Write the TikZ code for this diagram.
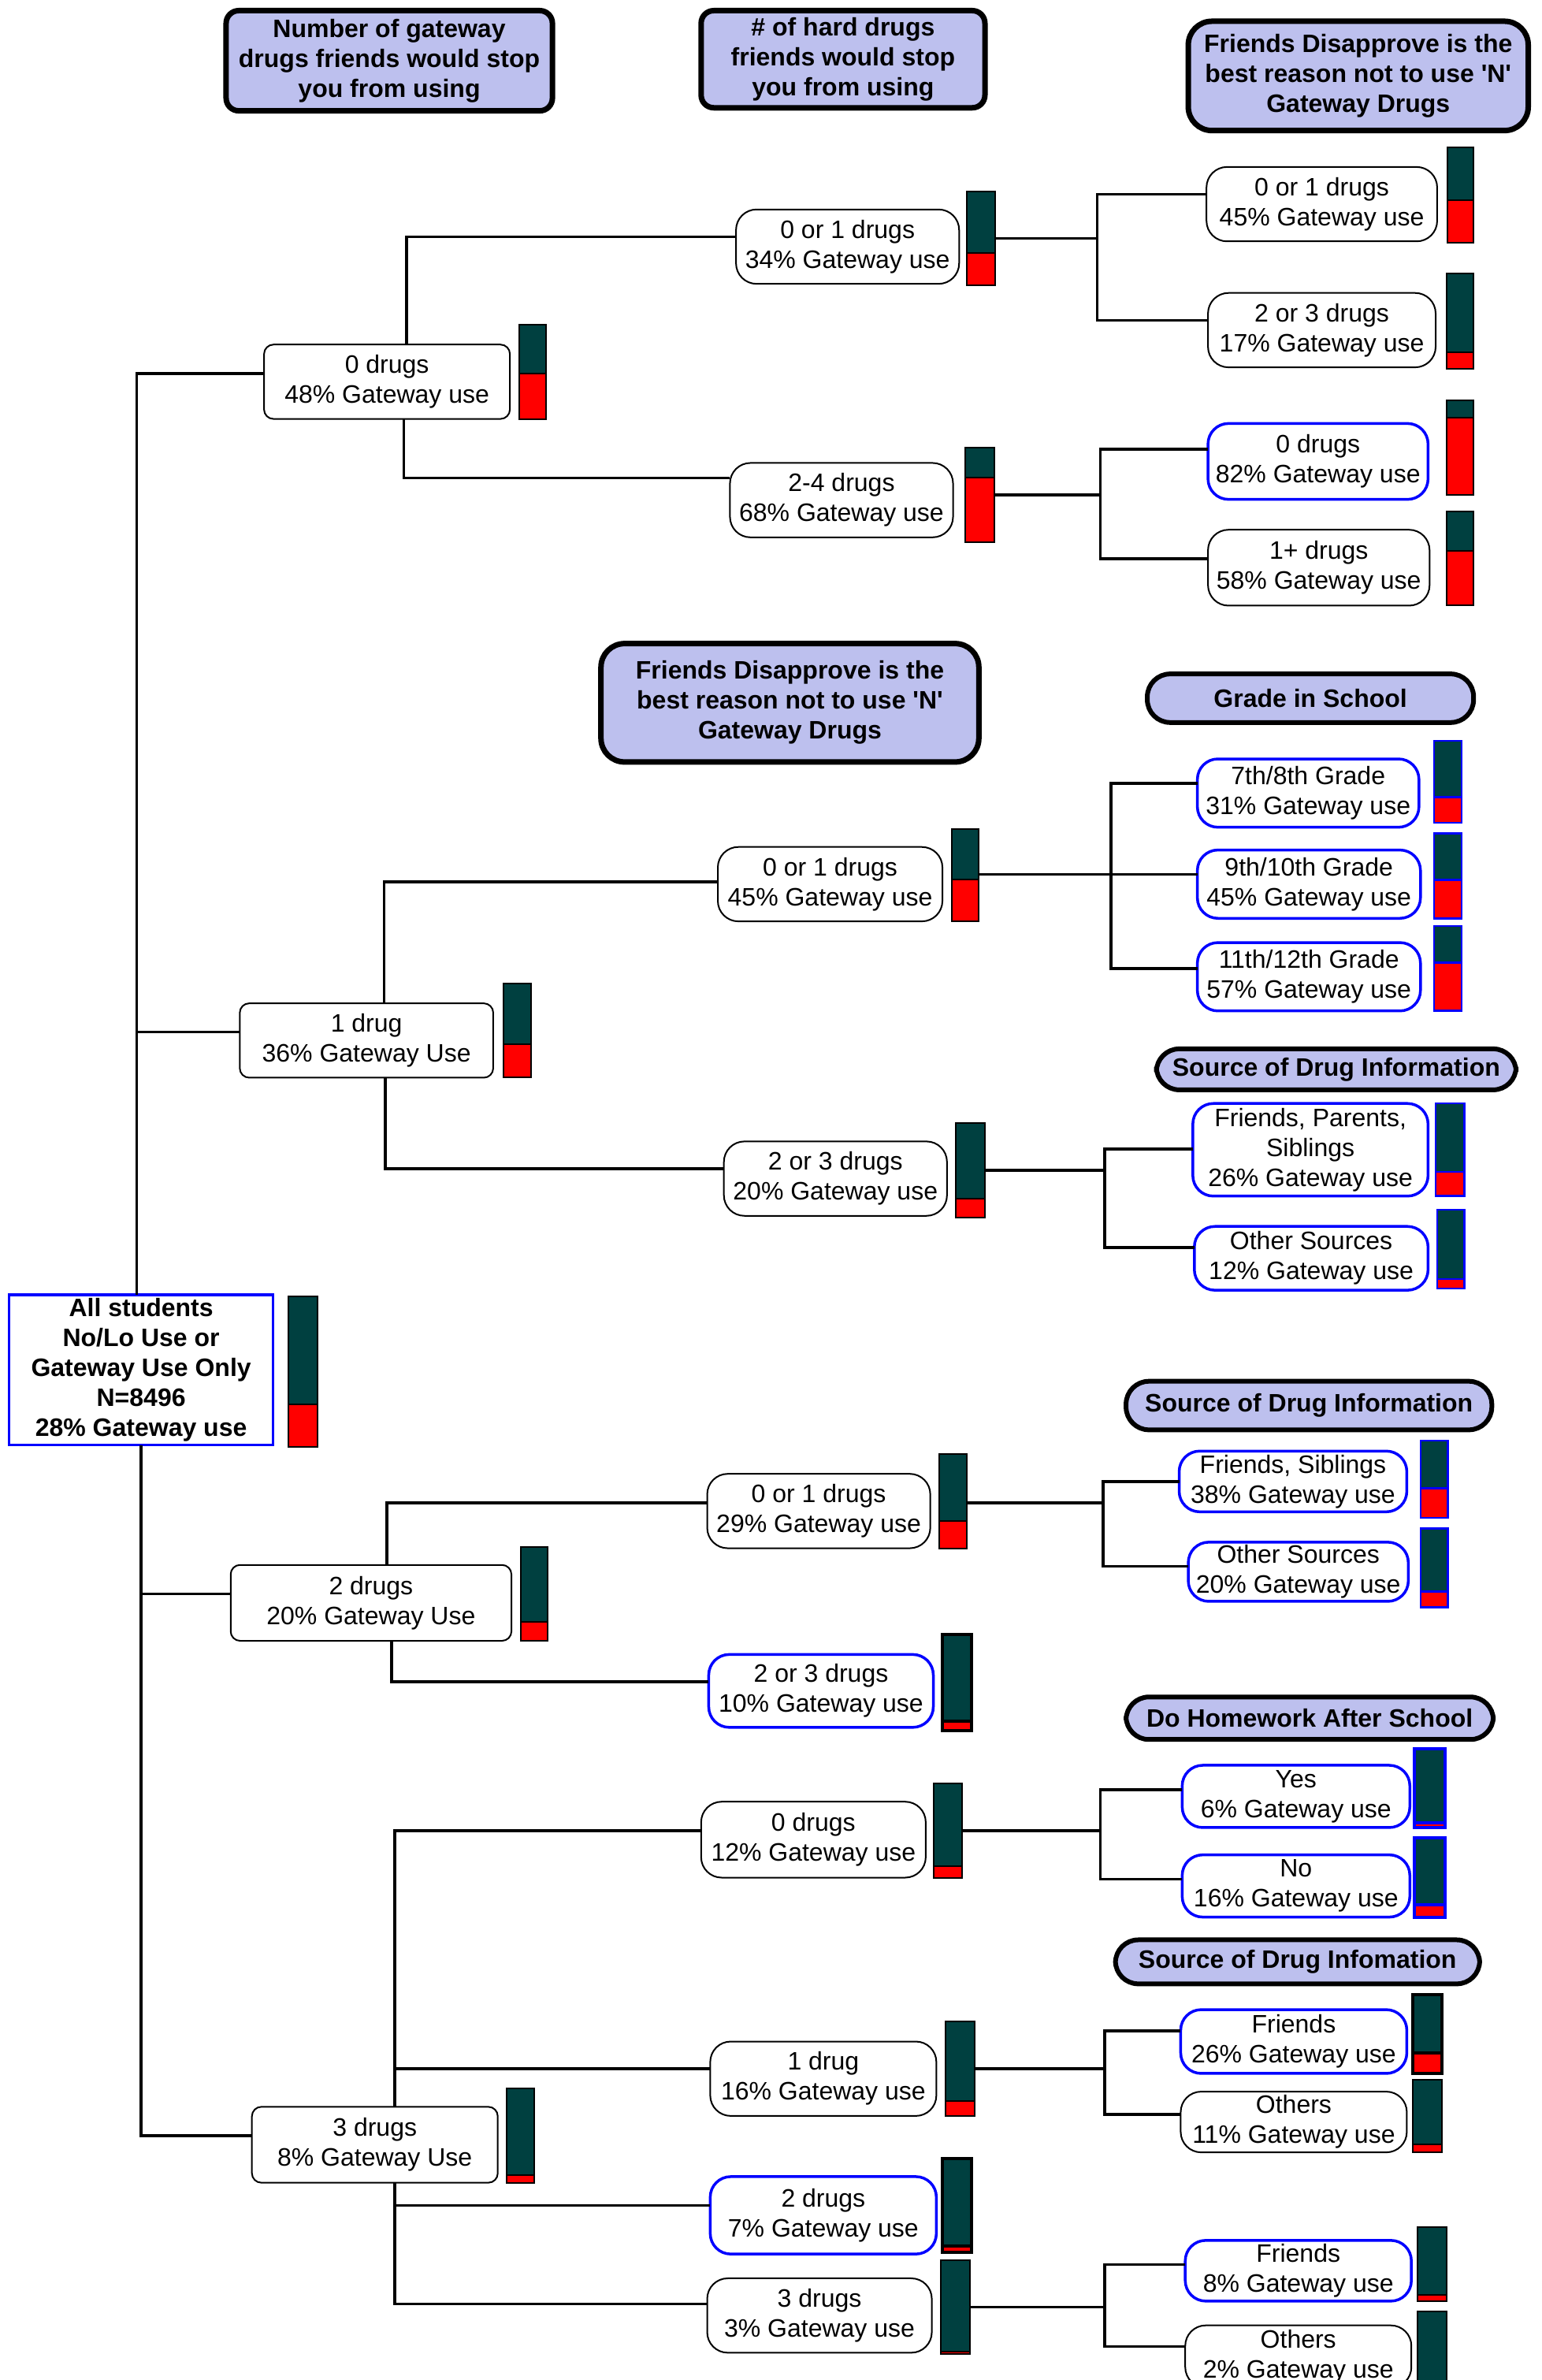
\documentclass[tikz,border=0pt]{standalone}
\usepackage{fontspec}
\setmainfont{Liberation Sans}
\newfontfamily\qf{Liberation Sans}
\definecolor{lav}{RGB}{189,192,238}
\definecolor{bteal}{RGB}{0,64,64}
\definecolor{bred}{RGB}{255,0,0}
\newcommand\nodefont{\fontsize{32}{38}\selectfont}
\newcommand\sq{{\qf'}}
\newcommand\mynode[7]{\node[#6, minimum width={(#4-#2)*1.926pt}, minimum height={(#5-#3)*1.926pt}] (#1) at ({(#2+#4)/2},{(#3+#5)/2}) {#7};}
\newcommand\mybar[7]{%
  \node[barbox, minimum width={(#4-#2)*1.926pt}, minimum height={(#5-#3)*1.926pt}] (#1) at ({(#2+#4)/2},{(#3+#5)/2}) {};
  \fill[bred] (#2,{#5-(#5-#3)*#6/100}) rectangle (#4,#5);
  \draw[#7] (#2,{#5-(#5-#3)*#6/100}) -- (#4,{#5-(#5-#3)*#6/100});
  \draw[#7] (#2,#3) rectangle (#4,#5);
}
\tikzset{
  base/.style={fill=white, align=center, inner sep=0pt, outer sep=0pt, font=\nodefont},
  nd/.style={base, draw=black, line width=2pt, rounded corners=26pt},
  ndb/.style={base, draw=blue, line width=3.5pt, rounded corners=26pt},
  lvone/.style={base, draw=black, line width=2pt, rounded corners=12pt},
  rootbox/.style={base, draw=blue, line width=3.5pt, font=\nodefont\bfseries},
  hdr/.style={base, fill=lav, draw=black, line width=7pt, rounded corners=16pt, font=\nodefont\bfseries},
  hdrr/.style={hdr, rounded corners=30pt},
  pill/.style={hdr, line width=6pt, rounded corners=29pt},
  barbox/.style={fill=bteal, inner sep=0pt, outer sep=0pt, draw=none},
  bk/.style={draw=black, line width=2pt},
  bkt/.style={draw=black, line width=4pt},
  bb/.style={draw=blue, line width=2.5pt},
  bbt/.style={draw=blue, line width=4pt},
  conn/.style={draw=black, line width=3.5pt}
}
\begin{document}
\begin{tikzpicture}[x=1.926pt, y=-1.926pt]
\useasboundingbox (0,0) rectangle (1016,1568);
\clip (0,0) rectangle (1016,1568);
\fill[white] (0,0) rectangle (1016,1568);

% headers
\mynode{H1}{149}{7}{364}{73}{hdr}{Number of gateway\\drugs friends would stop\\you from using}
\mynode{H2}{462}{7}{649}{71}{hdr}{\# of hard drugs\\friends would stop\\you from using}
\mynode{H3}{783}{14}{1007}{86}{hdrr}{Friends Disapprove is the\\best reason not to use \sq N\sq\\Gateway Drugs}
\mynode{H4}{396}{424}{645}{502}{hdrr}{Friends Disapprove is the\\best reason not to use \sq N\sq\\Gateway Drugs}
\mynode{H5}{756}{444}{971}{476}{pill}{Grade in School}
\mynode{H6}{762}{691}{999}{718}{pill}{Source of Drug Information}
\mynode{H7}{742}{910}{983}{942}{pill}{Source of Drug Information}
\mynode{H8}{742}{1118}{984}{1146}{pill}{Do Homework After School}
\mynode{H9}{735}{1278}{975}{1307}{pill}{Source of Drug Infomation}

% root
\mynode{root}{6}{853}{180}{952}{rootbox}{All students\\No/Lo Use or\\Gateway Use Only\\N=8496\\28\% Gateway use}
\mybar{rootbar}{190}{854}{209}{953}{28}{bk}

% level 1
\mynode{A}{174}{227}{336}{276}{lvone}{0 drugs\\48\% Gateway use}
\mybar{Abar}{342}{214}{360}{276}{48}{bk}
\mynode{B}{158}{661}{325}{710}{lvone}{1 drug\\36\% Gateway Use}
\mybar{Bbar}{332}{648}{350}{710}{36}{bk}
\mynode{C}{152}{1031}{337}{1081}{lvone}{2 drugs\\20\% Gateway Use}
\mybar{Cbar}{343}{1019}{361}{1081}{20}{bk}
\mynode{D}{166}{1388}{328}{1438}{lvone}{3 drugs\\8\% Gateway Use}
\mybar{Dbar}{334}{1376}{352}{1438}{8}{bk}

% level 2
\mynode{A1}{485}{138}{632}{187}{nd}{0 or 1 drugs\\34\% Gateway use}
\mybar{A1bar}{637}{126}{656}{188}{34}{bk}
\mynode{A2}{481}{305}{628}{354}{nd}{2-4 drugs\\68\% Gateway use}
\mybar{A2bar}{636}{295}{655}{357}{68}{bk}
\mynode{B1}{473}{558}{621}{607}{nd}{0 or 1 drugs\\45\% Gateway use}
\mybar{B1bar}{627}{546}{645}{607}{45}{bk}
\mynode{B2}{477}{752}{624}{801}{nd}{2 or 3 drugs\\20\% Gateway use}
\mybar{B2bar}{630}{740}{649}{802}{20}{bk}
\mynode{C1}{466}{971}{613}{1020}{nd}{0 or 1 drugs\\29\% Gateway use}
\mybar{C1bar}{619}{958}{637}{1020}{29}{bk}
\mynode{C2}{467}{1090}{615}{1138}{ndb}{2 or 3 drugs\\10\% Gateway use}
\mybar{C2bar}{621}{1077}{640}{1140}{10}{bkt}
\mynode{D1}{462}{1187}{610}{1237}{nd}{0 drugs\\12\% Gateway use}
\mybar{D1bar}{615}{1175}{634}{1237}{12}{bk}
\mynode{D2}{468}{1345}{617}{1394}{nd}{1 drug\\16\% Gateway use}
\mybar{D2bar}{623}{1332}{642}{1394}{16}{bk}
\mynode{D3}{468}{1434}{617}{1485}{ndb}{2 drugs\\7\% Gateway use}
\mybar{D3bar}{621}{1422}{640}{1484}{7}{bkt}
\mynode{D4}{466}{1501}{614}{1550}{nd}{3 drugs\\3\% Gateway use}
\mybar{D4bar}{620}{1489}{639}{1551}{3}{bk}

% level 3
\mynode{A1a}{795}{110}{947}{159}{nd}{0 or 1 drugs\\45\% Gateway use}
\mybar{A1abar}{954}{97}{971}{160}{45}{bk}
\mynode{A1b}{796}{193}{946}{242}{nd}{2 or 3 drugs\\17\% Gateway use}
\mybar{A1bbar}{953}{180}{971}{243}{17}{bk}
\mynode{A2a}{796}{279}{941}{329}{ndb}{0 drugs\\82\% Gateway use}
\mybar{A2abar}{953}{264}{971}{326}{82}{bk}
\mynode{A2b}{796}{349}{942}{399}{nd}{1+ drugs\\58\% Gateway use}
\mybar{A2bbar}{953}{337}{971}{399}{58}{bk}

\mynode{B1a}{789}{500}{935}{545}{ndb}{7th/8th Grade\\31\% Gateway use}
\mybar{B1abar}{945}{488}{963}{542}{31}{bb}
\mynode{B1b}{789}{560}{936}{605}{ndb}{9th/10th Grade\\45\% Gateway use}
\mybar{B1bbar}{945}{549}{963}{605}{45}{bb}
\mynode{B1c}{789}{621}{936}{666}{ndb}{11th/12th Grade\\57\% Gateway use}
\mybar{B1cbar}{945}{610}{963}{666}{57}{bb}
\mynode{B2a}{786}{727}{941}{788}{ndb}{Friends, Parents,\\Siblings\\26\% Gateway use}
\mybar{B2abar}{946}{727}{965}{788}{26}{bb}
\mynode{B2b}{787}{808}{941}{850}{ndb}{Other Sources\\12\% Gateway use}
\mybar{B2bbar}{947}{797}{965}{849}{12}{bb}

\mynode{C1a}{777}{956}{927}{996}{ndb}{Friends, Siblings\\38\% Gateway use}
\mybar{C1abar}{936}{949}{954}{1000}{38}{bb}
\mynode{C1b}{783}{1016}{928}{1055}{ndb}{Other Sources\\20\% Gateway use}
\mybar{C1bbar}{936}{1007}{954}{1059}{20}{bb}

\mynode{D1a}{779}{1163}{929}{1204}{ndb}{Yes\\6\% Gateway use}
\mybar{D1abar}{932}{1152}{952}{1204}{6}{bbt}
\mynode{D1b}{779}{1222}{929}{1263}{ndb}{No\\16\% Gateway use}
\mybar{D1bbar}{932}{1211}{952}{1263}{16}{bbt}
\mynode{D2a}{778}{1324}{927}{1366}{ndb}{Friends\\26\% Gateway use}
\mybar{D2abar}{931}{1314}{950}{1366}{26}{bkt}
\mynode{D2b}{778}{1378}{927}{1418}{nd}{Others\\11\% Gateway use}
\mybar{D2bbar}{931}{1370}{950}{1418}{11}{bk}
\mynode{D4a}{781}{1476}{930}{1516}{ndb}{Friends\\8\% Gateway use}
\mybar{D4abar}{934}{1467}{953}{1516}{8}{bk}
\mynode{D4b}{781}{1532}{930}{1573}{nd}{Others\\2\% Gateway use}
\mybar{D4bbar}{934}{1523}{953}{1576}{2}{bk}

% trunk
\coordinate (t1) at (90,246);
\coordinate (t2) at (90,680);
\coordinate (t3) at (93,1050);
\coordinate (t4) at (93,1407);
\draw[conn] (root.north -| t1) -- (t1) -- (t1 -| A.west);
\draw[conn] (t2) -- (t2 -| B.west);
\draw[conn] (root.south -| t4) -- (t4) -- (t4 -| D.west);
\draw[conn] (t3) -- (t3 -| C.west);

% A branches
\coordinate (a1) at (268,156);
\coordinate (a2) at (266,315);
\draw[conn] (A.north -| a1) -- (a1) -- (a1 -| A1.west);
\draw[conn] (A.south -| a2) -- (a2) -- (a2 -| A2.west);
\coordinate (ka1) at (723,157);
\coordinate (ka1t) at (723,128);
\coordinate (ka1b) at (723,211);
\draw[conn] (ka1 -| A1bar.east) -- (ka1);
\draw[conn] (ka1t -| A1a.west) -- (ka1t) -- (ka1b) -- (ka1b -| A1b.west);
\coordinate (ka2) at (725,326);
\coordinate (ka2t) at (725,296);
\coordinate (ka2b) at (725,368);
\draw[conn] (ka2 -| A2bar.east) -- (ka2);
\draw[conn] (ka2t -| A2a.west) -- (ka2t) -- (ka2b) -- (ka2b -| A2b.west);

% B branches
\coordinate (b1) at (253,581);
\coordinate (b2) at (254,770);
\draw[conn] (B.north -| b1) -- (b1) -- (b1 -| B1.west);
\draw[conn] (B.south -| b2) -- (b2) -- (b2 -| B2.west);
\coordinate (kb1) at (732,576);
\coordinate (kb1t) at (732,516);
\coordinate (kb1b) at (732,638);
\draw[conn] (kb1 -| B1bar.east) -- (kb1 -| B1b.west);
\draw[conn] (kb1t -| B1a.west) -- (kb1t) -- (kb1b) -- (kb1b -| B1c.west);
\coordinate (kb2) at (728,771);
\coordinate (kb2t) at (728,757);
\coordinate (kb2b) at (728,822);
\draw[conn] (kb2 -| B2bar.east) -- (kb2);
\draw[conn] (kb2t -| B2a.west) -- (kb2t) -- (kb2b) -- (kb2b -| B2b.west);

% C branches
\coordinate (c1) at (255,990);
\coordinate (c2) at (258,1108);
\draw[conn] (C.north -| c1) -- (c1) -- (c1 -| C1.west);
\draw[conn] (C.south -| c2) -- (c2) -- (c2 -| C2.west);
\coordinate (kc1) at (727,990);
\coordinate (kc1t) at (727,976);
\coordinate (kc1b) at (727,1032);
\draw[conn] (kc1 -| C1bar.east) -- (kc1);
\draw[conn] (kc1t -| C1a.west) -- (kc1t) -- (kc1b) -- (kc1b -| C1b.west);

% D branches
\coordinate (d1) at (260,1206);
\coordinate (d2) at (260,1363);
\coordinate (d3) at (260,1453);
\coordinate (d4) at (260,1518);
\draw[conn] (D.north -| d1) -- (d1) -- (d1 -| D1.west);
\draw[conn] (d2) -- (d2 -| D2.west);
\draw[conn] (D.south -| d4) -- (d4) -- (d4 -| D4.west);
\draw[conn] (d3) -- (d3 -| D3.west);
\coordinate (kd1) at (725,1206);
\coordinate (kd1t) at (725,1179);
\coordinate (kd1b) at (725,1238);
\draw[conn] (kd1 -| D1bar.east) -- (kd1);
\draw[conn] (kd1t -| D1a.west) -- (kd1t) -- (kd1b) -- (kd1b -| D1b.west);
\coordinate (kd2) at (728,1363);
\coordinate (kd2t) at (728,1338);
\coordinate (kd2b) at (728,1393);
\draw[conn] (kd2 -| D2bar.east) -- (kd2);
\draw[conn] (kd2t -| D2a.west) -- (kd2t) -- (kd2b) -- (kd2b -| D2b.west);
\coordinate (kd4) at (728,1520);
\coordinate (kd4t) at (728,1492);
\coordinate (kd4b) at (728,1546);
\draw[conn] (kd4 -| D4bar.east) -- (kd4);
\draw[conn] (kd4t -| D4a.west) -- (kd4t) -- (kd4b) -- (kd4b -| D4b.west);
\end{tikzpicture}
\end{document}
